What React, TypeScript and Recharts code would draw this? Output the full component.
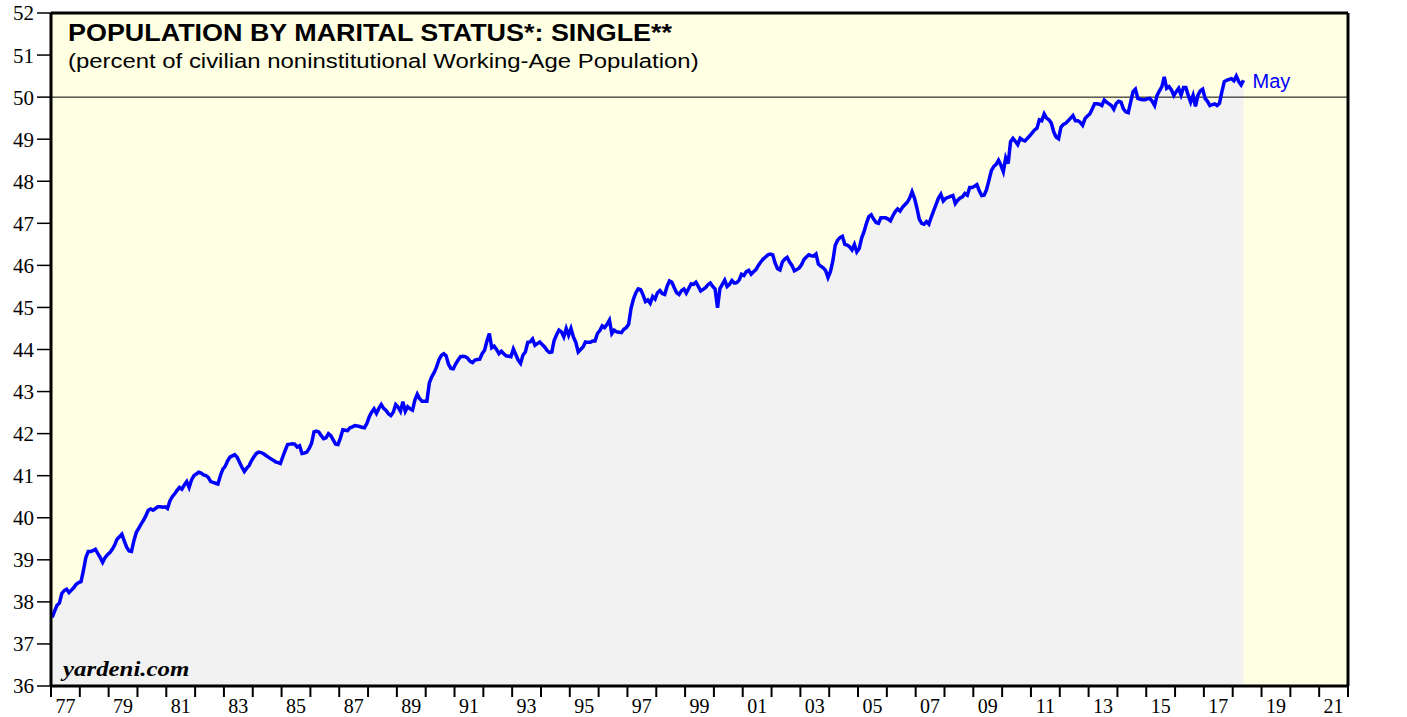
import React from 'react';
import {
  ComposedChart,
  Area,
  Line,
  XAxis,
  YAxis,
  CartesianGrid,
  ReferenceLine
} from 'recharts';

// monthly share of working-age population that is single (%), Jan 1977 .. May 2018
const singleShare = [
  // 1977
  37.63, 37.78, 37.92, 37.97, 38.20, 38.27, 38.30, 38.22, 38.28, 38.34, 38.42, 38.46,
  // 1978
  38.48, 38.75, 39.05, 39.20, 39.20, 39.22, 39.25, 39.15, 39.05, 38.94, 39.05, 39.12,
  // 1979
  39.17, 39.25, 39.35, 39.49, 39.55, 39.61, 39.45, 39.30, 39.21, 39.20, 39.45, 39.65,
  // 1980
  39.75, 39.85, 39.94, 40.05, 40.18, 40.21, 40.18, 40.22, 40.26, 40.26, 40.25, 40.26,
  // 1981
  40.22, 40.40, 40.50, 40.57, 40.65, 40.72, 40.68, 40.78, 40.86, 40.72, 40.90, 41.00,
  // 1982
  41.04, 41.08, 41.06, 41.02, 41.00, 40.96, 40.86, 40.84, 40.82, 40.80, 41.00, 41.15,
  // 1983
  41.22, 41.35, 41.44, 41.47, 41.50, 41.44, 41.32, 41.20, 41.10, 41.18, 41.24, 41.36,
  // 1984
  41.45, 41.53, 41.56, 41.55, 41.52, 41.48, 41.44, 41.40, 41.37, 41.33, 41.31, 41.29,
  // 1985
  41.45, 41.60, 41.74, 41.75, 41.76, 41.75, 41.68, 41.71, 41.53, 41.54, 41.56, 41.65,
  // 1986
  41.77, 42.04, 42.06, 42.04, 41.95, 41.88, 41.90, 42.00, 41.95, 41.85, 41.75, 41.74,
  // 1987
  41.90, 42.09, 42.08, 42.07, 42.14, 42.16, 42.19, 42.18, 42.17, 42.15, 42.14, 42.24,
  // 1988
  42.40, 42.51, 42.59, 42.48, 42.60, 42.69, 42.60, 42.55, 42.47, 42.43, 42.51, 42.69,
  // 1989
  42.63, 42.53, 42.76, 42.53, 42.64, 42.59, 42.56, 42.80, 42.94, 42.83, 42.77, 42.77,
  // 1990
  42.77, 43.20, 43.35, 43.45, 43.58, 43.75, 43.86, 43.90, 43.85, 43.65, 43.55, 43.54,
  // 1991
  43.66, 43.75, 43.83, 43.84, 43.83, 43.79, 43.72, 43.69, 43.75, 43.76, 43.77, 43.90,
  // 1992
  43.98, 44.20, 44.38, 44.04, 44.08, 44.00, 43.90, 43.96, 43.90, 43.85, 43.84, 43.83,
  // 1993
  44.01, 43.88, 43.75, 43.67, 43.87, 43.94, 44.17, 44.18, 44.25, 44.10, 44.14, 44.18,
  // 1994
  44.12, 44.06, 43.98, 43.93, 43.94, 44.22, 44.35, 44.46, 44.42, 44.30, 44.50, 44.34,
  // 1995
  44.50, 44.30, 44.17, 43.94, 44.00, 44.06, 44.18, 44.17, 44.17, 44.20, 44.20, 44.38,
  // 1996
  44.45, 44.56, 44.52, 44.60, 44.70, 44.38, 44.46, 44.42, 44.41, 44.40, 44.48, 44.52,
  // 1997
  44.60, 44.98, 45.20, 45.35, 45.44, 45.42, 45.30, 45.14, 45.18, 45.10, 45.26, 45.20,
  // 1998
  45.35, 45.40, 45.33, 45.31, 45.50, 45.63, 45.60, 45.47, 45.35, 45.31, 45.40, 45.44,
  // 1999
  45.34, 45.45, 45.56, 45.55, 45.60, 45.50, 45.39, 45.43, 45.47, 45.54, 45.58, 45.50,
  // 2000
  45.44, 44.99, 45.45, 45.55, 45.65, 45.50, 45.55, 45.64, 45.58, 45.59, 45.65, 45.79,
  // 2001
  45.76, 45.85, 45.88, 45.79, 45.85, 45.90, 46.00, 46.08, 46.15, 46.20, 46.25, 46.27,
  // 2002
  46.25, 46.05, 45.92, 45.89, 46.08, 46.15, 46.19, 46.08, 46.00, 45.87, 45.90, 45.94,
  // 2003
  46.02, 46.14, 46.20, 46.25, 46.23, 46.22, 46.27, 46.03, 45.98, 45.94, 45.88, 45.71,
  // 2004
  45.85, 46.10, 46.48, 46.60, 46.66, 46.69, 46.50, 46.48, 46.44, 46.37, 46.50, 46.32,
  // 2005
  46.40, 46.65, 46.80, 47.00, 47.16, 47.20, 47.10, 47.02, 47.00, 47.13, 47.13, 47.13,
  // 2006
  47.10, 47.06, 47.18, 47.28, 47.34, 47.29, 47.38, 47.44, 47.50, 47.60, 47.75, 47.60,
  // 2007
  47.37, 47.10, 47.00, 46.98, 47.04, 46.98, 47.15, 47.30, 47.45, 47.60, 47.69, 47.53,
  // 2008
  47.59, 47.62, 47.64, 47.66, 47.47, 47.55, 47.60, 47.63, 47.71, 47.67, 47.85, 47.85,
  // 2009
  47.88, 47.92, 47.77, 47.66, 47.67, 47.80, 48.02, 48.25, 48.35, 48.40, 48.50, 48.38,
  // 2010
  48.23, 48.56, 48.42, 48.94, 49.02, 48.95, 48.87, 49.02, 48.98, 48.96, 49.02, 49.08,
  // 2011
  49.15, 49.22, 49.26, 49.46, 49.44, 49.60, 49.50, 49.46, 49.38, 49.17, 49.05, 49.01,
  // 2012
  49.29, 49.35, 49.38, 49.44, 49.50, 49.56, 49.44, 49.44, 49.40, 49.33, 49.49, 49.55,
  // 2013
  49.60, 49.72, 49.84, 49.84, 49.83, 49.80, 49.93, 49.88, 49.84, 49.80, 49.71, 49.85,
  // 2014
  49.90, 49.88, 49.72, 49.65, 49.63, 49.88, 50.13, 50.19, 49.97, 49.95, 49.94, 49.94,
  // 2015
  49.96, 49.97, 49.90, 49.80, 50.04, 50.15, 50.25, 50.48, 50.21, 50.25, 50.17, 50.04,
  // 2016
  50.13, 50.21, 50.05, 50.23, 50.23, 50.04, 49.88, 50.04, 49.78, 50.04, 50.15, 50.19,
  // 2017
  49.97, 49.90, 49.80, 49.82, 49.84, 49.80, 49.85, 50.13, 50.37, 50.40, 50.42, 50.44,
  // 2018
  50.39, 50.50, 50.37, 50.29, 50.40
];

const startYear = 1977;
const endYear = 2022;
const lastMonthLabel = 'May';

const yearTicks = [
  1977, 1978, 1979, 1980, 1981, 1982, 1983, 1984, 1985, 1986, 1987, 1988,
  1989, 1990, 1991, 1992, 1993, 1994, 1995, 1996, 1997, 1998, 1999, 2000,
  2001, 2002, 2003, 2004, 2005, 2006, 2007, 2008, 2009, 2010, 2011, 2012,
  2013, 2014, 2015, 2016, 2017, 2018, 2019, 2020, 2021, 2022
];
const yearLabels = [
  '77', '79', '81', '83', '85', '87', '89', '91', '93', '95', '97', '99',
  '01', '03', '05', '07', '09', '11', '13', '15', '17', '19', '21'
];
const valueTicks = [36, 37, 38, 39, 40, 41, 42, 43, 44, 45, 46, 47, 48, 49, 50, 51, 52];

const W = 1407;
const H = 717;
const LEFT_W = 51;
const RIGHT_W = 59;
const halfYear = (W - LEFT_W - RIGHT_W) / (endYear - startYear) / 2;

const serif = '"Liberation Serif", "Times New Roman", serif';
const sans = '"Liberation Sans", Arial, Helvetica, sans-serif';

const data = singleShare.map((v, i) => ({ t: startYear + (i + 0.5) / 12, v }));

const YearTick = (props: any) => {
  const { x, y, payload } = props;
  const lab = String(payload.value).slice(2);
  if (!yearLabels.includes(lab)) return <g />;
  return (
    <text x={x + halfYear} y={y} dy="0.71em" textAnchor="middle" fill="#000" fontSize={20} fontFamily={serif}>
      {lab}
    </text>
  );
};

const renderMay = (p: any) =>
  p.index === singleShare.length - 1 ? (
    <text x={p.x + 9} y={p.y} dy="0.36em" fill="#0000FF" fontSize={20} fontFamily={sans}>
      {lastMonthLabel}
    </text>
  ) : null;

export default function App() {
  const tickStyle = { fill: '#000', fontSize: 21, fontFamily: serif };
  return (
    <div style={{ position: 'absolute', left: 0, top: 0, width: W, height: H, background: '#fff', overflow: 'hidden' }}>
      <ComposedChart width={W} height={H} data={data} margin={{ top: 0, right: 0, bottom: 0, left: 0 }}>
        <CartesianGrid horizontal={false} vertical={false} fill="#FFFFE3" xAxisId="main" yAxisId="left" />
        <XAxis
          xAxisId="main"
          dataKey="t"
          type="number"
          domain={[startYear, endYear]}
          ticks={yearTicks}
          interval={0}
          height={31}
          tickSize={11}
          tickMargin={2}
          tick={<YearTick />}
          tickLine={{ stroke: '#000', strokeWidth: 2 }}
          axisLine={{ stroke: '#000', strokeWidth: 3 }}
          allowDataOverflow
        />
        <XAxis
          xAxisId="top"
          orientation="top"
          type="number"
          domain={[startYear, endYear]}
          height={13}
          tick={false}
          tickLine={false}
          axisLine={{ stroke: '#000', strokeWidth: 3 }}
        />
        <YAxis
          yAxisId="left"
          type="number"
          domain={[36, 52]}
          ticks={valueTicks}
          interval={0}
          width={LEFT_W}
          tickSize={14}
          tickMargin={3}
          tick={tickStyle}
          tickLine={{ stroke: '#000', strokeWidth: 1.5 }}
          axisLine={{ stroke: '#000', strokeWidth: 3 }}
          allowDataOverflow
        />
        <YAxis
          yAxisId="right"
          orientation="right"
          type="number"
          domain={[36, 52]}
          ticks={valueTicks}
          interval={0}
          width={RIGHT_W}
          tickSize={14}
          tickMargin={6}
          tick={tickStyle}
          tickLine={{ stroke: '#000', strokeWidth: 1.5 }}
          axisLine={{ stroke: '#000', strokeWidth: 3 }}
        />
        <Area
          xAxisId="main"
          yAxisId="left"
          dataKey="v"
          type="linear"
          stroke="none"
          fill="#F2F2F2"
          fillOpacity={1}
          isAnimationActive={false}
        />
        <ReferenceLine xAxisId="main" yAxisId="left" y={50} stroke="#000" strokeWidth={1} />
        <Line
          xAxisId="main"
          yAxisId="left"
          dataKey="v"
          type="linear"
          stroke="#0000FF"
          strokeWidth={3.5}
          dot={false}
          label={renderMay}
          isAnimationActive={false}
        />
      </ComposedChart>
      {/* the source lettering is wider than the local fonts, hence the scaleX */}
      <div style={{ position: 'absolute', left: 68, top: 22, fontFamily: sans, fontWeight: 'bold', fontSize: 23, lineHeight: '23px', color: '#000', whiteSpace: 'nowrap', transform: 'scaleX(1.17)', transformOrigin: 'left top' }}>
        POPULATION BY MARITAL STATUS*: SINGLE**
      </div>
      <div style={{ position: 'absolute', left: 68, top: 51, fontFamily: sans, fontSize: 20, lineHeight: '20px', color: '#000', whiteSpace: 'nowrap', transform: 'scaleX(1.195)', transformOrigin: 'left top' }}>
        (percent of civilian noninstitutional Working-Age Population)
      </div>
      <div style={{ position: 'absolute', left: 63, top: 658, fontFamily: serif, fontWeight: 'bold', fontStyle: 'italic', fontSize: 22, lineHeight: '22px', color: '#000', whiteSpace: 'nowrap', transform: 'scaleX(1.13)', transformOrigin: 'left top' }}>
        yardeni.com
      </div>
    </div>
  );
}
